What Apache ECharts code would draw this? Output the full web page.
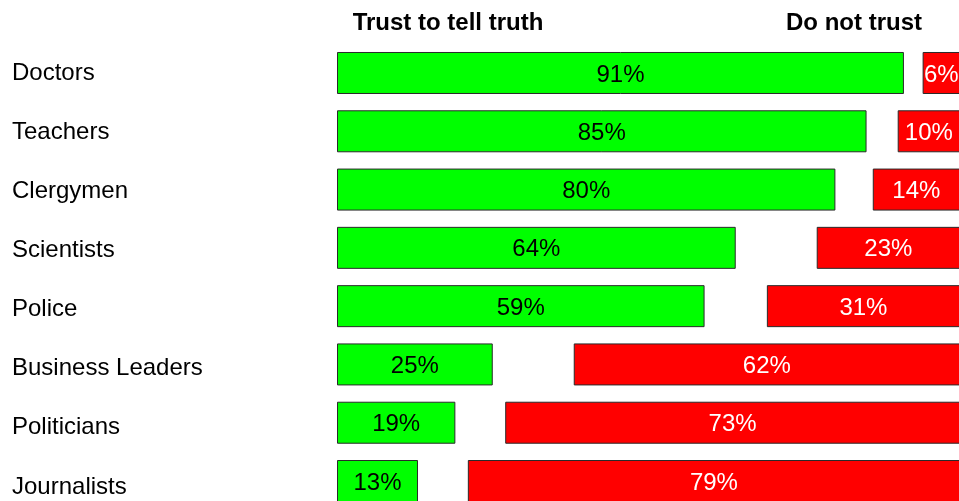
<!DOCTYPE html>
<html>
<head>
<meta charset="utf-8">
<script src="https://cdn.jsdelivr.net/npm/echarts@6/dist/echarts.min.js"></script>
<style>
  html, body { margin: 0; padding: 0; background: #fff; overflow: hidden; }
  /* the last row runs off the bottom of the window, so the canvas is taller than the view */
  #chart { width: 980px; height: 530px; }
</style>
</head>
<body>
<div id="chart"></div>
<script>
// Survey: which professions people trust to tell the truth
const professions = ['Doctors', 'Teachers', 'Clergymen', 'Scientists', 'Police',
  'Business Leaders', 'Politicians', 'Journalists'];
const trustPct = [91, 85, 80, 64, 59, 25, 19, 13];
const distrustPct = [6, 10, 14, 23, 31, 62, 73, 79];
const headers = ['Trust to tell truth', 'Do not trust'];

// Remaining share ("don't know") sits between the two bars, left blank
const neitherPct = professions.map((_, i) => 100 - trustPct[i] - distrustPct[i]);

const FONT = 'Liberation Sans, Arial, sans-serif';
const chart = echarts.init(document.getElementById('chart'));

chart.setOption({
  backgroundColor: '#ffffff',
  animation: false,
  title: [
    { text: headers[0], left: 443, top: 6, textAlign: 'center',
      textStyle: { fontFamily: FONT, fontSize: 24, fontWeight: 'bold', color: '#000' } },
    { text: headers[1], left: 849, top: 6, textAlign: 'center',
      textStyle: { fontFamily: FONT, fontSize: 24, fontWeight: 'bold', color: '#000' } }
  ],
  grid: [
    { left: 337, width: 623, top: 43.85, height: 466.3 },
    { left: 337, width: 623, top: 43.4, height: 473.1 }
  ],
  xAxis: [
    { type: 'value', gridIndex: 0, min: 0, max: 100, show: false },
    { type: 'value', gridIndex: 1, min: 0, max: 100, show: false }
  ],
  yAxis: [
    { type: 'category', gridIndex: 0, data: professions, inverse: true, show: false },
    {
      type: 'category', gridIndex: 1, data: professions, inverse: true,
      axisLine: { show: false }, axisTick: { show: false }, splitLine: { show: false },
      axisLabel: { align: 'left', margin: 325, fontFamily: FONT, fontSize: 24, color: '#000' }
    }
  ],
  series: [
    {
      name: headers[0], type: 'bar', stack: 'share', data: trustPct, barWidth: 42,
      itemStyle: { color: '#00ff00', borderColor: '#2a2a2a', borderWidth: 1 },
      label: { show: true, position: 'inside', formatter: '{c}%', offset: [0, 2],
        fontFamily: FONT, fontSize: 24, color: '#000' }
    },
    {
      name: 'neither', type: 'bar', stack: 'share', data: neitherPct, barWidth: 42,
      silent: true, itemStyle: { color: 'rgba(0,0,0,0)' }
    },
    {
      name: headers[1], type: 'bar', stack: 'share', data: distrustPct, barWidth: 42,
      itemStyle: { color: '#ff0000', borderColor: '#2a2a2a', borderWidth: 1 },
      label: { show: true, position: 'inside', formatter: '{c}%', offset: [0, 2],
        fontFamily: FONT, fontSize: 24, color: '#fff' }
    }
  ]
});
</script>
</body>
</html>
